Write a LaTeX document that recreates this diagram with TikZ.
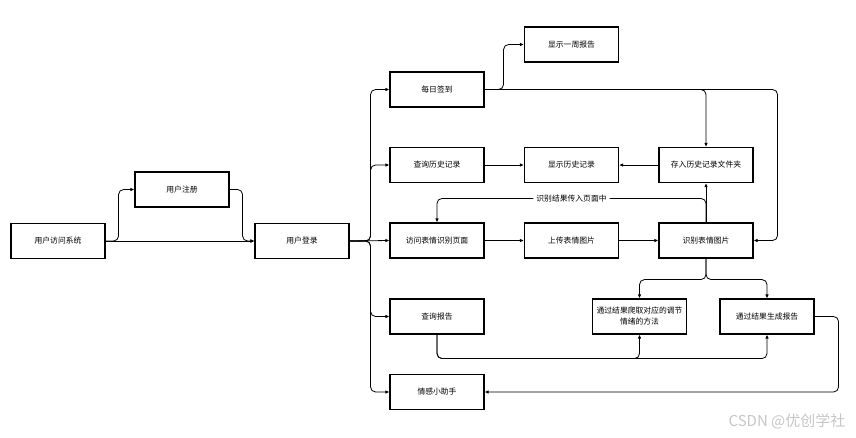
\documentclass[tikz,border=0pt]{standalone}
\usepackage{fontspec}
\newfontfamily\cjk{Noto Sans CJK SC}
\usetikzlibrary{arrows.meta}
\begin{document}
\begin{tikzpicture}[x=1pt, y=-1pt,
  box/.style={draw, line width=1.1pt, minimum width=94pt, minimum height=35pt, inner sep=1pt, align=center, font=\cjk\fontsize{7.8}{11}\selectfont},
  arr/.style={line width=0.8pt, rounded corners=5pt, -{Latex[length=4pt,width=3.5pt]}},
  lbl/.style={fill=white, inner sep=3pt, font=\cjk\fontsize{7.8}{9}\selectfont}]
\useasboundingbox (0,0) rectangle (856,437);
\node[box] (visit) at (58,241){用户访问系统};
\node[box] (reg) at (182,189.5){用户注册};
\node[box] (login) at (302,241){用户登录};
\node[box] (sign) at (437,89.5){每日签到};
\node[box] (week) at (571.5,44.5){显示一周报告};
\node[box] (qhist) at (437,165){查询历史记录};
\node[box] (shist) at (571.5,165){显示历史记录};
\node[box] (save) at (706,165){存入历史记录文件夹};
\node[box] (page) at (437,240.5){访问表情识别页面};
\node[box] (upload) at (571.5,240.5){上传表情图片};
\node[box] (recog) at (706,240.5){识别表情图片};
\node[box] (qrep) at (437,316.5){查询报告};
\node[box] (method) at (639.5,316.5){通过结果爬取对应的调节\\情绪的方法};
\node[box] (report) at (767,316.5){通过结果生成报告};
\node[box] (helper) at (437,392){情感小助手};
\node[text=gray!45, font=\cjk\fontsize{15}{18}\selectfont] (mark) at (787,421){CSDN @优创学社};
\draw[arr](visit.east) -- (login.west);
\draw[arr](visit.east) -- ++(13,0) |- (reg.west);
\draw[arr](reg.east) -- ++(13,0) |- (login.west);
\draw[arr](login.east) -- ++(21,0) |- (sign.west);
\draw[arr](login.east) -- ++(21,0) |- (qhist.west);
\draw[arr](login.east) -- (page.west);
\draw[arr](login.east) -- ++(21,0) |- (qrep.west);
\draw[arr](login.east) -- ++(21,0) |- (helper.west);
\draw[arr](sign.east) -- ++(19,0) |- (week.west);
\draw[arr](sign.east) -| (save.north);
\draw[arr](sign.east) -| ([xshift=24]recog.east) -- (recog.east);
\draw[arr](qhist) -- (shist);
\draw[arr](save) -- (shist);
\draw[arr](page) -- (upload);
\draw[arr](upload) -- (recog);
\draw[arr](recog) -- (save);
\draw[arr](recog.north) |- ([yshift=24]page.north) node[lbl, pos=0.75]{识别结果传入页面中} -- (page.north);
\draw[arr](recog.south) -- ++(0,21) -| (method.north);
\draw[arr](recog.south) -- ++(0,21) -| (report.north);
\draw[arr](qrep.south) -- ++(0,24) -| (method.south);
\draw[arr](qrep.south) -- ++(0,24) -| (report.south);
\draw[arr](report.east) -- ++(24,0) |- (helper.east);
\end{tikzpicture}
\end{document}
